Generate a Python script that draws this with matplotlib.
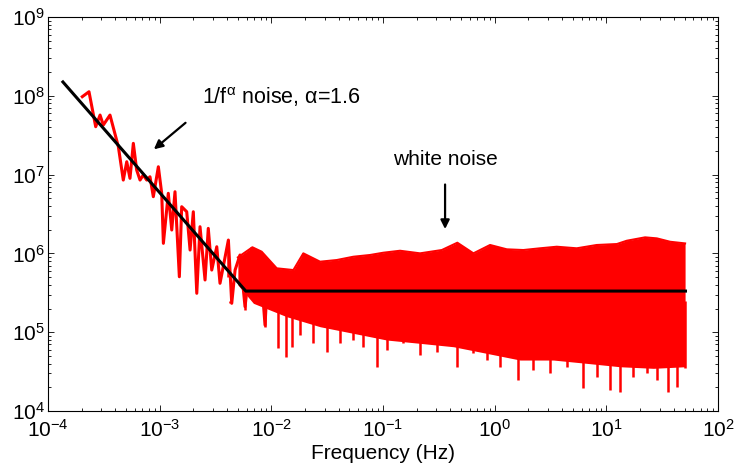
import matplotlib
matplotlib.use('Agg')
import numpy as np
import matplotlib.pyplot as plt

plt.rcParams['font.family'] = ['Liberation Sans', 'DejaVu Sans']
plt.rcParams['mathtext.fontset'] = 'custom'
plt.rcParams['mathtext.rm'] = 'Liberation Sans'
plt.rcParams['mathtext.it'] = 'Liberation Sans'
plt.rcParams['mathtext.default'] = 'regular'

RED = '#FF0000'
INK = '#000000'

# Values, stored as decade exponents (log10).
# low-frequency part of the spectrum, traced as a single line
lf_line = [-3.693, -3.633, -3.573, -3.534, -3.505, -3.445, -3.370, -3.326,
           -3.295, -3.266, -3.236, -3.206, -3.176, -3.147, -3.116, -3.087,
           -3.057, -3.012, -2.982, -2.967, -2.923, -2.892, -2.863, -2.824,
           -2.803, -2.758, -2.728, -2.699, -2.668, -2.639, -2.594, -2.565,
           -2.534, -2.489, -2.460, -2.385, -2.355, -2.325, -2.281, -2.236,
           -2.176, -2.146, -2.101, -2.057, -2.027]
lp_line = [7.989, 8.052, 7.608, 7.756, 7.629, 7.756, 7.354, 6.931,
           7.164, 6.953, 7.397, 7.058, 6.931, 6.995, 6.931, 6.973,
           6.720, 7.100, 6.763, 6.128, 6.763, 6.297, 6.783, 5.704,
           6.593, 6.529, 6.043, 6.529, 5.494, 6.339, 5.663, 6.318,
           5.789, 6.085, 5.621, 6.170, 5.367, 5.789, 5.980, 5.324,
           6.064, 5.409, 5.916, 5.091, 5.874]

# dense white-noise band: upper edge
lf_upper = [-2.300, -2.170, -2.087, -1.952, -1.803, -1.714, -1.564,
            -1.415, -1.266, -1.117, -0.997, -0.848, -0.669, -0.474, -0.335,
            -0.191, -0.042, 0.108, 0.256, 0.406, 0.555, 0.734, 0.913,
            1.093, 1.182, 1.346, 1.451, 1.570, 1.704]
lp_upper = [5.950, 6.078, 6.022, 5.811, 5.789, 6.001, 5.895,
            5.916, 5.958, 5.980, 6.009, 6.034, 6.001, 6.043, 6.136,
            6.001, 6.107, 6.052, 6.043, 6.065, 6.085, 6.065, 6.107,
            6.119, 6.161, 6.204, 6.191, 6.148, 6.127]

# dense white-noise band: solid lower edge
lf_base = [-2.300, -2.161, -1.863, -1.564, -1.266, -0.967, -0.669, -0.370,
           -0.072, 0.227, 0.525, 0.824, 1.122, 1.420, 1.704]
lp_base = [5.600, 5.367, 5.197, 5.070, 4.986, 4.901, 4.859, 4.816,
           4.732, 4.647, 4.647, 4.605, 4.562, 4.542, 4.562]

# deepest downward spikes below the band
lf_dip = [-2.370, -2.236, -2.057, -1.938, -1.872, -1.818, -1.743, -1.624,
          -1.504, -1.385, -1.266, -1.177, -1.057, -0.967, -0.818, -0.669,
          -0.519, -0.340, -0.191, -0.072, 0.048, 0.212, 0.346, 0.495,
          0.645, 0.794, 0.913, 1.033, 1.122, 1.241, 1.360, 1.451,
          1.554, 1.629, 1.704]
lp_dip = [5.367, 5.282, 5.070, 4.796, 4.689, 4.816, 4.964, 4.859,
          4.753, 4.859, 4.901, 4.816, 4.562, 4.774, 4.859, 4.711,
          4.753, 4.562, 4.732, 4.647, 4.562, 4.393, 4.520, 4.478,
          4.562, 4.288, 4.435, 4.267, 4.245, 4.435, 4.478, 4.393,
          4.245, 4.309, 4.542]

# upward spikes above the band
lf_peak = [-2.385, -2.170, -1.714, -0.335, -0.042, 0.555, 1.182, 1.346,
           1.451]
lp_peak = [6.170, 6.078, 6.001, 6.136, 6.107, 6.085, 6.161, 6.204, 6.191]

# fitted piecewise model: 1/f^alpha then flat white-noise floor
fit_f = [1.36e-4, 5.9e-3, 51.0]
fit_p = [1.5e8, 3.33e5, 3.33e5]

fig = plt.figure(figsize=(7.34, 4.73), dpi=100)
ax = fig.add_axes([0.0654, 0.131, 0.913, 0.833])

ax.plot(10 ** np.array(lf_line), 10 ** np.array(lp_line), color=RED,
        linewidth=2.2, zorder=2)

# band: interpolate both edges on a common grid (log space)
grid = np.union1d(lf_upper, lf_base)
up = np.interp(grid, lf_upper, lp_upper)
lo = np.interp(grid, lf_base, lp_base)
ax.fill_between(10 ** grid, 10 ** lo, 10 ** up, color=RED, linewidth=0,
                zorder=2)
ax.plot(10 ** np.array(lf_upper), 10 ** np.array(lp_upper), color=RED,
        linewidth=1.5, zorder=2)
ax.vlines(10 ** np.array(lf_dip), 10 ** np.array(lp_dip), 10 ** 5.4,
          color=RED, linewidth=1.8, zorder=2)
ax.vlines(10 ** np.array(lf_peak), 10 ** 5.7, 10 ** np.array(lp_peak),
          color=RED, linewidth=1.8, zorder=2)

ax.plot(fit_f, fit_p, color=INK, linewidth=2.2, zorder=3)

ax.set_xscale('log')
ax.set_yscale('log')
ax.set_xlim(1e-4, 1e2)
ax.set_ylim(1e4, 1e9)

ax.tick_params(which='both', direction='in', top=True, right=True,
               labelsize=15, width=0.6)
ax.tick_params(which='major', length=4.5)
ax.tick_params(which='minor', length=2.5)
ax.tick_params(axis='y', which='major', pad=2)
ax.tick_params(axis='x', which='major', pad=6)
for s in ax.spines.values():
    s.set_linewidth(0.8)

ax.set_xlabel('Frequency (Hz)', fontsize=15, labelpad=2)

# annotations
ax.annotate('', xy=(8.49e-4, 1.99e7), xytext=(1.78e-3, 4.79e7),
            arrowprops=dict(arrowstyle='-|>', color=INK, lw=1.6,
                            mutation_scale=13))
ax.text(2.38e-3, 9.75e7, r'1/f$^{\alpha}$ noise, $\alpha$=1.6',
        fontsize=15.5, ha='left', va='center')
ax.annotate('', xy=(0.359, 1.88e6), xytext=(0.359, 8.13e6),
            arrowprops=dict(arrowstyle='-|>', color=INK, lw=1.6,
                            mutation_scale=13))
ax.text(0.122, 1.56e7, 'white noise', fontsize=15, ha='left', va='center')

fig.savefig('out.png', dpi=100)
